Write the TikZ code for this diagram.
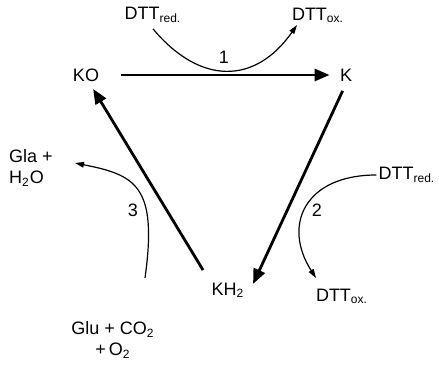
\documentclass[tikz,border=0pt]{standalone}
\usepackage{fontspec}
\setmainfont{Liberation Sans}
\usetikzlibrary{arrows.meta}

\begin{document}
\begin{tikzpicture}[
  x=0.5pt, y=-0.5pt,
  font=\fontsize{9}{10.5}\selectfont,
  chem/.style={inner sep=1pt},
  arr/.style={-{Triangle[length=7.5pt,width=6pt]}, line width=1.4pt},
  carr/.style={-{Triangle[length=4.5pt,width=2.8pt]}, line width=0.6pt},
  lbl/.style={inner sep=0pt},
]
\useasboundingbox (0,0) rectangle (439,365);

% cycle
\node[chem] (ko)  at (86,75)   {KO};
\node[chem] (k)   at (346,75)  {K};
\node[chem] (kh2) at (228,290) {KH\textsubscript{2}};

\draw[arr, shorten <=10pt, shorten >=4pt] (ko) -- (k);
\draw[arr, shorten <=4pt, shorten >=-2pt] (k.south) -- ([xshift=4pt]kh2.north east);
\draw[arr, shorten <=6pt, shorten >=3pt] (kh2.north west) -- ([xshift=2pt]ko.south);

% step 1
\node[chem] (dred1) at (153,15) {DTT\textsubscript{red.}};
\node[chem] (dox1)  at (318,15) {DTT\textsubscript{ox.}};
\draw[carr] ([yshift=-2pt]dred1.south) .. controls (200,85) and (255,85) .. (297,25);
\node[lbl] (n1) at (224,57) {1};

% step 2
\node[chem] (dred2) at (407,175) {DTT\textsubscript{red.}};
\node[chem] (dox2)  at (342,296) {DTT\textsubscript{ox.}};
\coordinate (e2) at (316,278);
\draw[carr] (dred2.west) .. controls (305,175) and (282,225) .. (e2);
\node[lbl] (n2) at (317,210) {2};

% step 3
\node[chem, align=left] (gla) at (31,168) {Gla +\\H\textsubscript{2}O};
\node[chem, align=center] (glu) at (113,340) {Glu + CO\textsubscript{2}\\+\,O\textsubscript{2}};
\coordinate (s3) at (145,278);
\coordinate (e3) at (75,163);
\draw[carr] (s3) .. controls (158,185) and (135,175) .. (e3);
\node[lbl] (n3) at (133,210) {3};

\end{tikzpicture}
\end{document}
